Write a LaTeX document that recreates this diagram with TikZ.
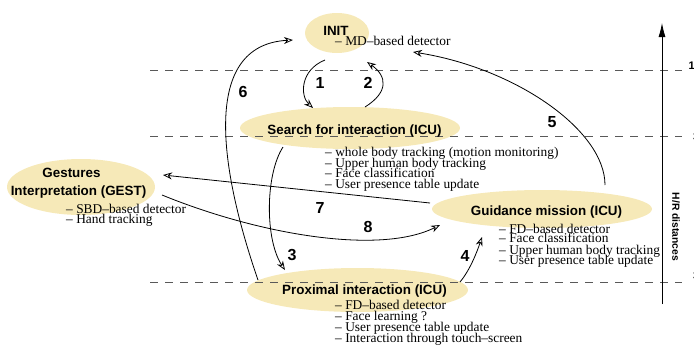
\documentclass[tikz,border=0pt]{standalone}
\usepackage{fontspec}
\setmainfont{Liberation Serif}
\setsansfont{Liberation Sans}
\usetikzlibrary{shapes.geometric,arrows.meta}
\definecolor{stateyellow}{RGB}{246,233,184}
\begin{document}
\begin{tikzpicture}[x=1pt,y=-1pt,
  state/.style={ellipse, fill=stateyellow, draw=none, inner sep=0pt, outer sep=0pt},
  statename/.style={font=\fontsize{13.4}{16}\selectfont\sffamily\bfseries, inner sep=0pt, anchor=base},
  item/.style={font=\fontsize{13.4}{10.5}\selectfont, inner sep=0pt, anchor=base west},
  tag/.style={font=\fontsize{16}{16}\selectfont\sffamily\bfseries, inner sep=0pt},
  threshold/.style={draw=black!65, dash pattern=on 8pt off 7pt, line width=0.9pt},
  trans/.style={draw, line width=0.8pt, -{Stealth[open,length=9pt,width=7pt]}},
  edgelabel/.style={font=\fontsize{11}{11}\selectfont\sffamily\bfseries, inner sep=0pt, anchor=west},
]
\useasboundingbox (0,0) rectangle (694,349);

% states
\node[state, minimum width=64pt,  minimum height=40pt] (init)   at (337,33)  {};
\node[state, minimum width=220pt, minimum height=42pt] (search) at (350,128) {};
\node[state, minimum width=148pt, minimum height=56pt] (gest)   at (81,187)  {};
\node[state, minimum width=220pt, minimum height=38pt] (guid)   at (542,209) {};
\node[state, minimum width=221pt, minimum height=44pt] (prox)   at (357.5,290) {};

% distance thresholds
\draw[threshold] (150,70)  -- (682,70);
\draw[threshold] (150,136) -- (682,136);
\draw[threshold] (150,282) -- (682,282);

% distance axis
\coordinate (axisbottom) at (662,304);
\coordinate (axistop) at (662,23);
\draw[line width=0.8pt, -{Latex[length=14pt,width=7pt]}] (axisbottom) -- (axistop);
\node[font=\fontsize{10.3}{10}\selectfont\sffamily\bfseries, rotate=-90, inner sep=0pt] (axislabel) at (676,227) {H/R distances};
\node[edgelabel] (d1) at (688.5,66) {1};
\node[edgelabel] (d2) at (692.8,137) {3};
\node[edgelabel] (d3) at (692.8,276) {3};

% state names
\node[statename] (init-t)   at (336,35)    {INIT};
\node[statename] (search-t) at (354.5,134) {Search for interaction (ICU)};
\node[statename] (gest-t1)  at (71.5,177)  {Gestures};
\node[statename] (gest-t2)  at (78.5,195)  {Interpretation (GEST)};
\node[statename] (guid-t)   at (546.5,215) {Guidance mission (ICU)};
\node[statename] (prox-t)   at (364.5,294) {Proximal interaction (ICU)};

% activities of each state
\node[item] (init-l1) at (335,45) {-- MD--based detector};

\foreach \t [count=\i] in {-- whole body tracking (motion monitoring),
                           -- Upper human body tracking,
                           -- Face classification,
                           -- User presence table update}
  \node[item] (search-l\i) at (325,{146.5+10.4*\i}) {\t};

\node[item] (gest-l1) at (66,213) {-- SBD--based detector};
\node[item] (gest-l2) at (66,223) {-- Hand tracking};

\node[item] (guid-l1) at (499,233) {-- FD--based detector};
\node[item] (guid-l2) at (499,242) {-- Face classification};
\node[item] (guid-l3) at (499,254) {-- Upper human body tracking};
\node[item] (guid-l4) at (499,264) {-- User presence table update};

\node[item] (prox-l1) at (335,309)   {-- FD--based detector};
\node[item] (prox-l2) at (335,320.5) {-- Face learning ?};
\node[item] (prox-l3) at (335,331.5) {-- User presence table update};
\node[item] (prox-l4) at (335,342)   {-- Interaction through touch--screen};

% transitions
\draw[trans] ([shift={(-12,27)}]init.center)
  .. controls +(-25,10) and +(-13,-12) .. ([shift={(-37,-20)}]search.center);
\draw[trans] ([shift={(15,-21)}]search.center)
  .. controls +(24,-15) and +(20,14) .. ([shift={(30,29)}]init.center);
\draw[trans] ([shift={(-67,19)}]search.center)
  .. controls +(-18,28) and +(-20,-30) .. ([shift={(-72.5,-20)}]prox.center);
\draw[trans] ([shift={(102.5,-8)}]prox.center)
  .. controls +(10,-12) and +(-5,15) .. ([shift={(-60,28)}]guid.center);
\draw[trans] ([shift={(63,-24)}]guid.center)
  .. controls +(0,-55) and +(102,16) .. ([shift={(76,19)}]init.center);
\draw[trans] ([shift={(-99.5,-10)}]prox.center)
  .. controls +(-38,-110) and +(-93,5) .. ([shift={(-44,7)}]init.center);
\draw[trans] ([shift={(-112,-6)}]guid.center) -- ([shift={(82,-12)}]gest.center);
\draw[trans] ([shift={(81,8)}]gest.center)
  .. controls +(98,40) and +(-60,30) .. ([shift={(-102,16)}]guid.center);

% transition numbers
\node[tag] (n1) at (320,83)  {1};
\node[tag] (n2) at (368,83)  {2};
\node[tag] (n3) at (292,255) {3};
\node[tag] (n4) at (465,256) {4};
\node[tag] (n5) at (552,122) {5};
\node[tag] (n6) at (243,92)  {6};
\node[tag] (n7) at (320,208) {7};
\node[tag] (n8) at (368,227) {8};
\end{tikzpicture}
\end{document}
